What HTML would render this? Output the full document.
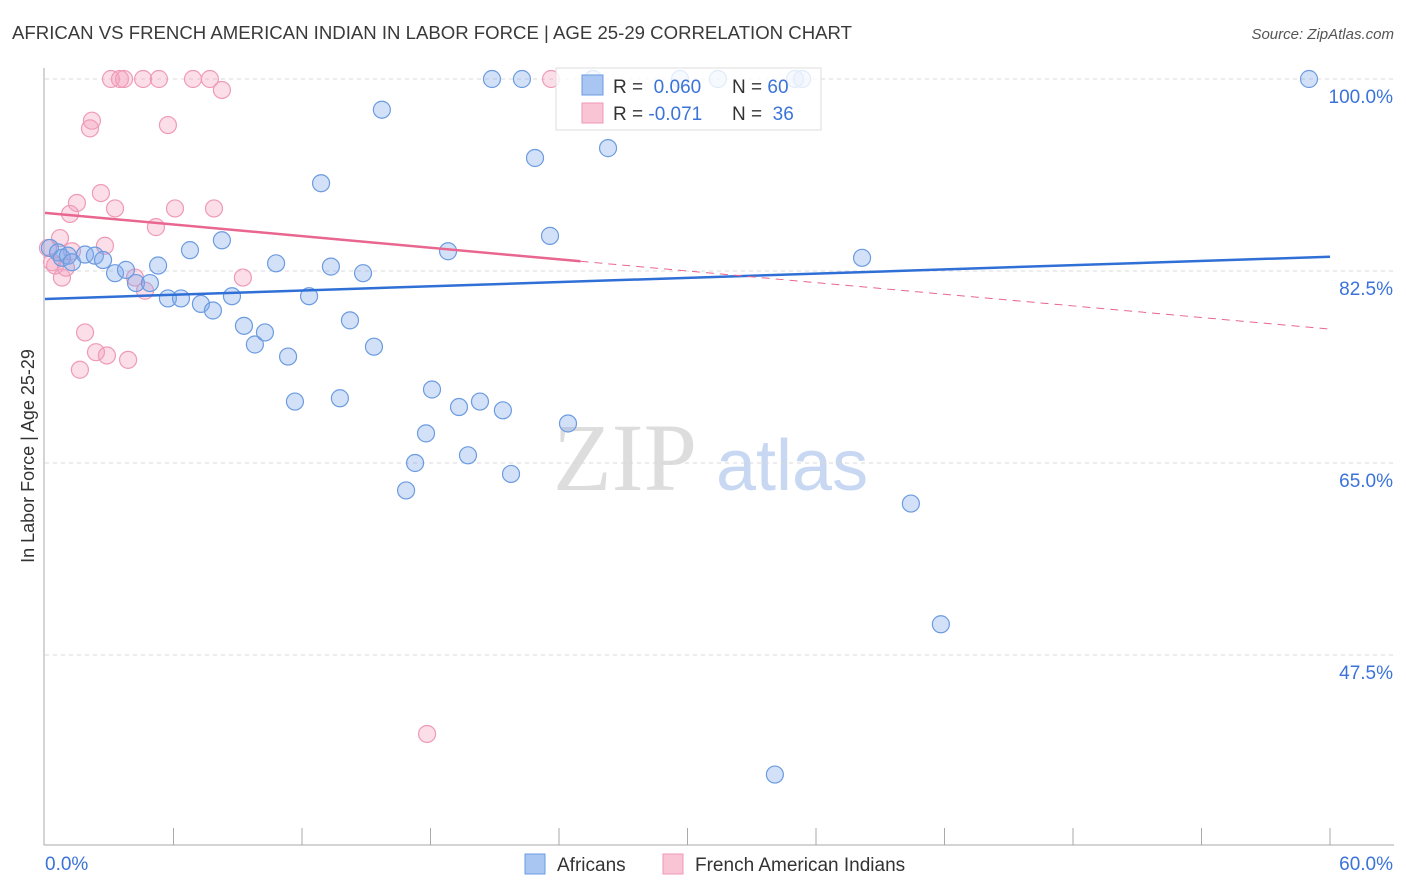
<!DOCTYPE html>
<html><head><meta charset="utf-8"><style>
body{margin:0;background:#fff;font-family:"Liberation Sans",sans-serif;}
svg{display:block}
</style></head><body>
<svg id="chart" width="1406" height="892">
<text x="12" y="39" font-size="18.6" fill="#3a3a3a">AFRICAN VS FRENCH AMERICAN INDIAN IN LABOR FORCE | AGE 25-29 CORRELATION CHART</text>
<text x="1394" y="39" font-size="15" fill="#555" font-style="italic" text-anchor="end">Source: ZipAtlas.com</text>
<text transform="translate(34,456) rotate(-90)" font-size="18" fill="#333" text-anchor="middle">In Labor Force | Age 25-29</text>
<g>
<text x="553" y="490" font-family="Liberation Serif,serif" font-size="96" fill="#ddd">ZIP</text>
<text x="716" y="490" font-size="72" fill="#c8d8f2">atlas</text>
</g>
<g id="grid"></g>
<g id="axes"></g>
<g id="marks"></g>
<g id="trends"></g>
<g>
<rect x="556" y="68" width="265" height="62" fill="rgba(255,255,255,0.8)" stroke="#ddd"/>
<rect x="582" y="75" width="21" height="20" fill="#a9c6f3" stroke="#6b9be0"/>
<rect x="582" y="103" width="21" height="20" fill="#f9c4d4" stroke="#ee9ab5"/>
<text x="613" y="93" font-size="19" fill="#333" xml:space="preserve">R =  <tspan fill="#3b73d9">0.060</tspan></text>
<text x="732" y="93" font-size="19" fill="#333">N = <tspan fill="#3b73d9">60</tspan></text>
<text x="613" y="120" font-size="19" fill="#333">R = <tspan fill="#3b73d9">-0.071</tspan></text>
<text x="732" y="120" font-size="19" fill="#333" xml:space="preserve">N =  <tspan fill="#3b73d9">36</tspan></text>
</g>
<g>
<rect x="525" y="854" width="20" height="20" fill="#a9c6f3" stroke="#6b9be0"/>
<text x="557" y="871" font-size="19" fill="#333">Africans</text>
<rect x="663" y="854" width="20" height="20" fill="#f9c4d4" stroke="#ee9ab5"/>
<text x="695" y="871" font-size="19" fill="#333">French American Indians</text>
</g>
</svg>
<script>
const xTicks=[0,10,20,30,40,50,60];
const yTicks=[47.5,65.0,82.5,100.0];
const blueX=[0.23,0.61,0.79,1.07,1.26,1.87,2.33,2.71,3.27,3.78,4.25,4.90,5.28,5.74,6.35,6.77,7.28,7.84,8.26,8.73,9.29,9.80,10.27,10.79,11.35,11.67,12.33,12.89,13.35,13.77,14.24,14.85,15.36,15.73,16.86,17.28,17.79,18.07,18.82,19.33,19.75,20.31,20.87,21.38,21.76,22.27,22.88,23.58,24.42,25.59,26.29,29.65,31.42,34.08,35.02,35.35,38.15,40.43,41.83,59.02];
const blueY=[84.6,84.2,83.7,83.9,83.3,84.0,83.9,83.5,82.3,82.6,81.4,81.4,83.0,80.0,80.0,84.4,79.5,78.9,85.3,80.2,77.5,75.8,76.9,83.2,74.7,70.6,80.2,90.5,82.9,70.9,78.0,82.3,75.6,97.2,62.5,65.0,67.7,71.7,84.3,70.1,65.7,70.6,100,69.8,64.0,100,92.8,85.7,68.6,100,93.7,100,100,36.6,100,100,83.7,61.3,50.3,100];
const pinkX=[0.33,0.47,0.70,0.79,0.98,1.26,1.49,1.17,1.63,1.87,2.10,2.19,2.38,2.61,2.80,2.89,3.08,3.27,3.50,3.69,3.88,4.20,4.58,4.67,5.18,5.32,5.74,6.07,6.91,7.70,7.89,8.26,9.24,17.84,23.63,0.14];
const pinkY=[83.3,83.0,85.5,81.9,82.8,84.3,88.7,87.7,73.5,76.9,95.5,96.2,75.1,89.6,84.8,74.8,100,88.2,100,100,74.4,81.9,100,80.7,86.5,100,95.8,88.2,100,100,88.2,99.0,81.9,40.3,100,84.6];
const blueTrend=[79.95,83.8];
const pinkTrend=[87.8,77.2];
const pinkSolidEnd=25;
const NS="http://www.w3.org/2000/svg";
const X=v=>45+v/60*1285;
const Y=v=>79+(100-v)*10.971;
function mk(t,a,p){const e=document.createElementNS(NS,t);for(const k in a)e.setAttribute(k,a[k]);p.appendChild(e);return e;}
const grid=document.getElementById('grid'),axes=document.getElementById('axes'),marks=document.getElementById('marks'),trends=document.getElementById('trends');
yTicks.forEach(v=>{
 const l=mk('line',{x1:45,x2:1394,y1:Y(v),y2:Y(v),stroke:'#d8d8d8','stroke-dasharray':'4,4'},grid);
 
 
 const t=mk('text',{x:1393,y:Y(v)+24,'font-size':19,fill:'#3b73d9','text-anchor':'end'},axes);
 t.textContent=v.toFixed(1)+'%';
 
 
});
const ya=mk('line',{x1:44,x2:44,y1:68,y2:845,stroke:'#aaa'},axes);


const xa=mk('line',{x1:44,x2:1394,y1:845,y2:845,stroke:'#aaa'},axes);


for(let i=1;i<=10;i++){const v=i*6;const t=mk('line',{x1:X(v),x2:X(v),y1:828,y2:845,stroke:'#aaa'},axes);
 
 }
[[xTicks[0],'start'],[xTicks[xTicks.length-1],'end']].forEach(([v,a])=>{
 const t=mk('text',{x:a==='end'?1393:45,y:870,'font-size':19,fill:'#3b73d9','text-anchor':a},axes);
 t.textContent=v.toFixed(1)+'%';
 
 
});
pinkX.forEach((v,i)=>{const c=mk('circle',{cx:X(v),cy:Y(pinkY[i]),r:8.5,fill:'rgba(244,160,188,0.35)',stroke:'#ef9ab6','stroke-width':1.2},marks);
 
 });
blueX.forEach((v,i)=>{const c=mk('circle',{cx:X(v),cy:Y(blueY[i]),r:8.5,fill:'rgba(130,170,235,0.35)',stroke:'#6b9be0','stroke-width':1.2},marks);
 
 });
const bt=mk('line',{x1:X(0),y1:Y(blueTrend[0]),x2:X(60),y2:Y(blueTrend[1]),stroke:'#2f6fd6','stroke-width':2.5},trends);


const pAt=x=>pinkTrend[0]+(pinkTrend[1]-pinkTrend[0])*x/60;
const pt=mk('line',{x1:X(0),y1:Y(pAt(0)),x2:X(pinkSolidEnd),y2:Y(pAt(pinkSolidEnd)),stroke:'#e8668f','stroke-width':2.5},trends);


const pd=mk('line',{x1:X(pinkSolidEnd),y1:Y(pAt(pinkSolidEnd)),x2:X(60),y2:Y(pAt(60)),stroke:'#e8668f','stroke-width':1,'stroke-dasharray':'8,6'},trends);


</script>
</body></html>
